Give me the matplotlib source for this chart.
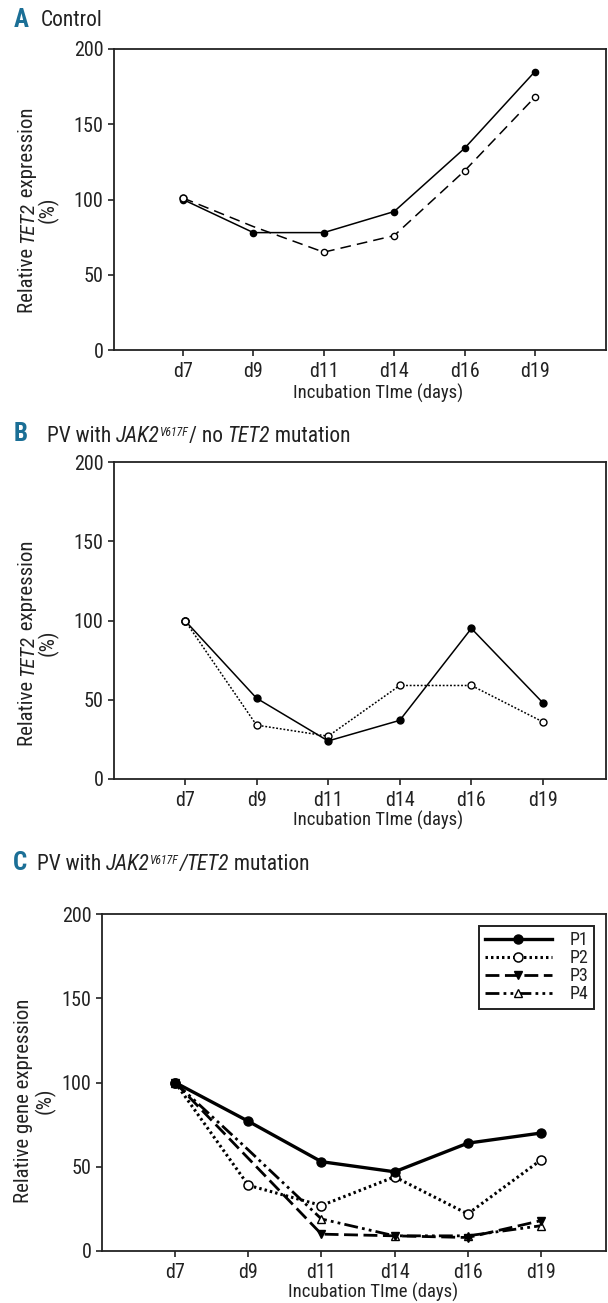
import os
import matplotlib
matplotlib.use("Agg")
import matplotlib.pyplot as plt
from matplotlib import font_manager
from matplotlib.font_manager import FontProperties

# ---- pick a condensed sans face if one is installed ----
prefs = ["liberationsansnarrow-regular", "robotocondensed-regular", "notosans-condensed.",
         "dejavusanscondensed.", "opensans_condensed-regular", "opensanscondensed-regular",
         "opensans-condensed"]
chosen = None
for p in prefs:
    for f in font_manager.fontManager.ttflist:
        if os.path.basename(f.fname).lower().startswith(p):
            chosen = f
            break
    if chosen:
        break
if chosen is not None:
    FAM, STRETCH = chosen.name, chosen.stretch
else:
    FAM, STRETCH = "Liberation Sans", "normal"

plt.rcParams['font.family'] = [FAM, 'DejaVu Sans']
plt.rcParams['font.stretch'] = STRETCH

# ---------------- data ----------------
days = ["d7", "d9", "d11", "d14", "d16", "d19"]

a_solid = [100, 78, 78, 92, 134, 185]
a_dashed = [101, 82, 65, 76, 119, 168]

b_solid = [100, 51, 24, 37, 95, 48]
b_dotted = [100, 34, 27, 59, 59, 36]

c_p1 = [100, 77, 53, 47, 64, 70]
c_p2 = [100, 39, 27, 44, 22, 54]
c_p3 = [100, 55, 10, 9, 8, 18]
c_p4 = [100, 60, 19, 9, 9, 15]
c_labels = ["P1", "P2", "P3", "P4"]

y_ticks = [0, 50, 100, 150, 200]

W, H = 608, 1303
fig = plt.figure(figsize=(W / 100, H / 100), dpi=100)
renderer = fig.canvas.get_renderer()

TXT = "#222222"
TEAL = "#1b6f96"


def fp(size, style="normal", weight="normal"):
    return FontProperties(family=[FAM, 'DejaVu Sans'], size=size, style=style,
                          weight=weight, stretch=STRETCH)


def make_axes(left, right, top, bottom):
    return fig.add_axes([left / W, 1 - bottom / H, (right - left) / W, (bottom - top) / H])


def style(ax, xlim):
    xs_ = list(range(1, len(days) + 1))
    ax.set_xticks(xs_)
    ax.set_xticklabels(days)
    ax.set_yticks(y_ticks)
    ax.set_ylim(0, 200)
    ax.set_xlim(*xlim)
    for s in ax.spines.values():
        s.set_linewidth(1.3)
        s.set_color("#222222")
    ax.tick_params(direction="out", length=4.5, width=1.2, colors="#222222",
                   labelsize=14.5, labelcolor=TXT, pad=3)
    ax.tick_params(axis="x", pad=4)
    for lab in ax.get_xticklabels() + ax.get_yticklabels():
        lab.set_fontproperties(fp(14.5))


def rich(xp, yp, pieces, rotation=0, anchor="left"):
    """pieces: (text, size, style, weight, color, raise_px). xp, yp in pixels from top-left."""
    widths = []
    for (t, size, st, wt, col, rz) in pieces:
        tmp = fig.text(0, 0, t, fontproperties=fp(size, st, wt))
        bb = tmp.get_window_extent(renderer)
        widths.append(bb.width)
        tmp.remove()
    total = sum(widths)
    if rotation == 0:
        cx = xp if anchor == "left" else xp - total / 2
        for (t, size, st, wt, col, rz), w in zip(pieces, widths):
            fig.text(cx / W, 1 - (yp - rz) / H, t, fontproperties=fp(size, st, wt),
                     color=col, ha="left", va="baseline")
            cx += w
    else:
        cy = yp + total / 2
        for (t, size, st, wt, col, rz), w in zip(pieces, widths):
            fig.text((xp - rz) / W, 1 - cy / H, t, fontproperties=fp(size, st, wt),
                     color=col, ha="left", va="baseline", rotation=90,
                     rotation_mode="anchor")
            cy -= w


xs = list(range(1, len(days) + 1))
skip_d9 = [0, 2, 3, 4, 5]

# ---------------- Panel A ----------------
axA = make_axes(114, 606, 49, 350)
axA.plot(xs, a_dashed, color="black", lw=1.1, ls=(0, (7, 4)), marker="o", ms=4.5,
         mfc="white", mec="black", mew=1.0, markevery=skip_d9)
axA.plot(xs, a_solid, color="black", lw=1.1, ls="-", marker="o", ms=4.5,
         mfc="black", mec="black")
axA.plot([1], [a_dashed[0]], ls="none", marker="o", ms=5, mfc="white", mec="black", mew=1.1)
style(axA, (0.02, 7.01))

# ---------------- Panel B ----------------
axB = make_axes(114, 606, 462, 779)
axB.plot(xs, b_dotted, color="black", lw=1.1, ls=(0, (1.2, 1.2)), marker="o", ms=5,
         mfc="white", mec="black", mew=1.0)
axB.plot(xs, b_solid, color="black", lw=1.1, ls="-", marker="o", ms=5,
         mfc="black", mec="black")
axB.plot([1], [b_dotted[0]], ls="none", marker="o", ms=5, mfc="white", mec="black", mew=1.1)
style(axB, (0.01, 6.88))

# ---------------- Panel C ----------------
axC = make_axes(102, 606, 914, 1251)
axC.plot(xs, c_p4, color="black", lw=2.0, ls=(0, (5, 1.5, 1, 1.5, 1, 1.5)), marker="^", ms=6,
         mfc="white", mec="black", mew=1.0, label=c_labels[3], markevery=skip_d9)
axC.plot(xs, c_p3, color="black", lw=2.0, ls=(0, (5, 2)), marker="v", ms=6,
         mfc="black", mec="black", label=c_labels[2], markevery=skip_d9)
axC.plot(xs, c_p2, color="black", lw=2.2, ls=(0, (0.8, 1.0)), marker="o", ms=6.5,
         mfc="white", mec="black", mew=1.1, label=c_labels[1])
axC.plot(xs, c_p1, color="black", lw=2.4, ls="-", marker="o", ms=6.5,
         mfc="black", mec="black", label=c_labels[0])
style(axC, (0.0, 6.89))
handles, labels = axC.get_legend_handles_labels()
order = [3, 2, 1, 0]
leg = axC.legend([handles[i] for i in order], [labels[i] for i in order],
                 loc="upper right", bbox_to_anchor=((594 - 102) / 504, 1 - (926 - 914) / 337),
                 frameon=True, fancybox=False, framealpha=1, edgecolor="#222222",
                 prop=fp(13), handlelength=3.7, handletextpad=1.0, labelspacing=0.0,
                 borderpad=0.3, borderaxespad=0, markerfirst=True)
leg.get_frame().set_linewidth(1.4)
for t in leg.get_texts():
    t.set_color(TXT)

# ---------------- Titles ----------------
T = 15.5
rich(14, 27, [("A", 18, "normal", "bold", TEAL, 0)])
rich(41, 26, [("Control", T, "normal", "normal", TXT, 0)])

rich(14, 441, [("B", 18, "normal", "bold", TEAL, 0)])
rich(47, 442, [("PV with ", T, "normal", "normal", TXT, 0),
               ("JAK2", T, "italic", "normal", TXT, 0),
               ("V617F", 8.5, "italic", "normal", TXT, 6),
               ("/ no ", T, "normal", "normal", TXT, 0),
               ("TET2", T, "italic", "normal", TXT, 0),
               (" mutation", T, "normal", "normal", TXT, 0)])

rich(13, 870, [("C", 18, "normal", "bold", TEAL, 0)])
rich(37, 870, [("PV with ", T, "normal", "normal", TXT, 0),
               ("JAK2", T, "italic", "normal", TXT, 0),
               ("V617F", 8.5, "italic", "normal", TXT, 6),
               ("/", T, "italic", "normal", TXT, 0),
               ("TET2", T, "italic", "normal", TXT, 0),
               (" mutation", T, "normal", "normal", TXT, 0)])

# ---------------- Axis labels ----------------
for (xc, yc) in [(378, 393), (378, 820), (373, 1292)]:
    fig.text(xc / W, 1 - yc / H, "Incubation TIme (days)", fontproperties=fp(13.5),
             color=TXT, ha="center", va="center")

YL = 15
for (xb, yc) in [(33, 210), (33, 643)]:
    rich(xb, yc, [("Relative ", YL, "normal", "normal", TXT, 0),
                  ("TET2", YL, "italic", "normal", TXT, 0),
                  (" expression", YL, "normal", "normal", TXT, 0)], rotation=90)
    fig.text((xb + 15) / W, 1 - yc / H, "(%)", fontproperties=fp(YL), color=TXT,
             rotation=90, ha="center", va="center")
rich(29, 1101, [("Relative gene expression", YL, "normal", "normal", TXT, 0)], rotation=90)
fig.text((29 + 16) / W, 1 - 1101 / H, "(%)", fontproperties=fp(YL), color=TXT,
         rotation=90, ha="center", va="center")

fig.savefig("out.png", dpi=100)
